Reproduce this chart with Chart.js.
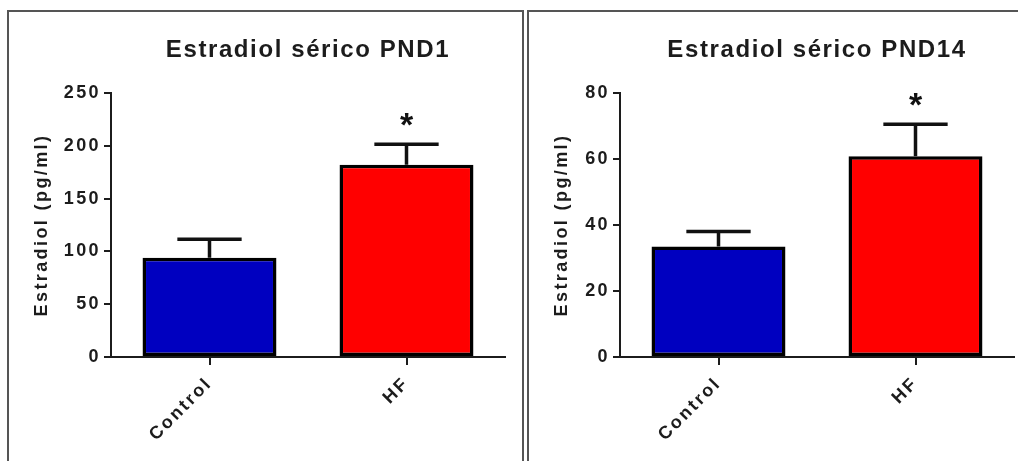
<!DOCTYPE html>
<html>
<head>
<meta charset="utf-8">
<script src="https://cdn.jsdelivr.net/npm/chart.js@4.4.1/dist/chart.umd.min.js"></script>
<style>
  html, body { margin: 0; padding: 0; background: #fff; }
  body { width: 1018px; height: 461px; position: relative; overflow: hidden; }
  .panel { position: absolute; border: 2px solid #555; box-sizing: border-box; }
  #panel1 { left: 7px; top: 10px; width: 517px; height: 480px; }
  #panel2 { left: 527px; top: 10px; width: 520px; height: 480px; }
  canvas { position: absolute; top: 0; }
  #chart1 { left: 0; }
  #chart2 { left: 525px; }
</style>
</head>
<body>
<div class="panel" id="panel1"></div>
<div class="panel" id="panel2"></div>
<canvas id="chart1" width="520" height="461"></canvas>
<canvas id="chart2" width="493" height="461"></canvas>
<script>
const groups = ["Control", "HF"];
const barColors = ["#0000c0", "#ff0000"];
const marks = ["", "*"];

// PND1 (pg/ml), mean and SEM
const pnd1Mean = [94, 182];
const pnd1Sem = [17.5, 19.5];
const pnd1Ticks = [0, 50, 100, 150, 200, 250];

// PND14 (pg/ml), mean and SEM
const pnd14Mean = [33.5, 60.8];
const pnd14Sem = [4.5, 9.7];
const pnd14Ticks = [0, 20, 40, 60, 80];

const FONT = '"Liberation Sans", Arial, sans-serif';
const INK = "#1c1c1c";

Chart.defaults.font.family = FONT;
Chart.defaults.color = INK;

// error bars, asterisks, title and the wide text spacing of the original
const prismPlugin = {
  id: "prism",
  beforeLayout(chart) {
    chart.ctx.letterSpacing = "2.4px";
  },
  beforeDraw(chart) {
    chart.ctx.letterSpacing = "2.4px";
  },
  afterDatasetsDraw(chart, args, opts) {
    const ctx = chart.ctx;
    const meta = chart.getDatasetMeta(0);
    const y = chart.scales.y;
    const values = chart.data.datasets[0].data;
    ctx.save();
    ctx.strokeStyle = "#111";
    ctx.lineWidth = 3.5;
    meta.data.forEach((bar, i) => {
      const top = y.getPixelForValue(values[i] + opts.sem[i]);
      const half = bar.width * 0.24;
      ctx.beginPath();
      ctx.moveTo(bar.x, bar.y);
      ctx.lineTo(bar.x, top);
      ctx.moveTo(bar.x - half, top);
      ctx.lineTo(bar.x + half, top);
      ctx.stroke();
      if (opts.marks[i]) {
        ctx.letterSpacing = "0px";
        ctx.font = "bold 34px " + FONT;
        ctx.fillStyle = "#111";
        ctx.textAlign = "center";
        ctx.textBaseline = "middle";
        ctx.fillText(opts.marks[i], bar.x, top - 18);
      }
    });
    ctx.restore();
  },
  afterDraw(chart, args, opts) {
    const ctx = chart.ctx;
    const area = chart.chartArea;
    ctx.save();
    ctx.letterSpacing = "1.6px";
    ctx.font = "bold 24px " + FONT;
    ctx.fillStyle = INK;
    ctx.textAlign = "center";
    ctx.textBaseline = "alphabetic";
    ctx.fillText(opts.title, (area.left + area.right) / 2, area.top - 36);
    ctx.restore();
  }
};

function makeChart(id, title, means, sems, ticks, yWidth, yTitlePad, rightPad) {
  return new Chart(document.getElementById(id), {
    type: "bar",
    data: {
      labels: groups,
      datasets: [
        {
          data: means,
          backgroundColor: barColors,
          borderColor: "#000",
          borderWidth: 3.5,
          borderSkipped: false,
          barPercentage: 1,
          categoryPercentage: 0.68,
        },
      ],
    },
    options: {
      responsive: false,
      animation: false,
      layout: {
        padding: { top: 93, right: rightPad, left: 0, bottom: 0 },
      },
      scales: {
        x: {
          afterFit(scale) {
            scale.height = 104;
          },
          grid: {
            offset: false,
            drawOnChartArea: false,
            drawTicks: true,
            tickLength: 8,
            color: INK,
            lineWidth: 2,
          },
          border: { display: true, color: INK, width: 2 },
          ticks: {
            minRotation: 45,
            maxRotation: 45,
            padding: 8,
            color: INK,
            font: { size: 18, weight: "bold" },
          },
        },
        y: {
          min: ticks[0],
          max: ticks[ticks.length - 1],
          afterFit(scale) {
            scale.width = yWidth;
          },
          grid: {
            drawOnChartArea: false,
            drawTicks: true,
            tickLength: 7,
            color: INK,
            lineWidth: 2,
          },
          border: { display: true, color: INK, width: 2 },
          ticks: {
            stepSize: ticks[1] - ticks[0],
            padding: 3,
            color: INK,
            font: { size: 18, weight: "bold" },
          },
          title: {
            display: true,
            text: "Estradiol (pg/ml)",
            color: INK,
            padding: { top: yTitlePad, bottom: 0 },
            font: { size: 18, weight: "bold" },
          },
        },
      },
      plugins: {
        legend: { display: false },
        tooltip: { enabled: false },
        prism: { title: title, sem: sems, marks: marks },
      },
    },
    plugins: [prismPlugin],
  });
}

makeChart("chart1", "Estradiol sérico PND1", pnd1Mean, pnd1Sem, pnd1Ticks, 111, 31, 15);
makeChart("chart2", "Estradiol sérico PND14", pnd14Mean, pnd14Sem, pnd14Ticks, 95, 26, 4);
</script>
</body>
</html>
